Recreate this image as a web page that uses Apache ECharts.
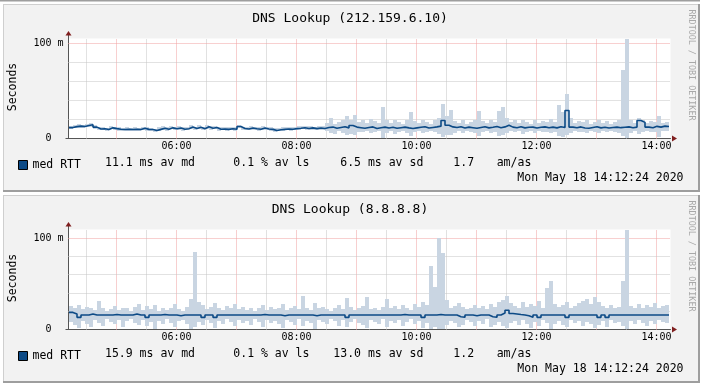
<!DOCTYPE html>
<html><head><meta charset="utf-8">
<script src="https://cdn.jsdelivr.net/npm/echarts@6/dist/echarts.min.js"></script>
<style>html,body{margin:0;padding:0;background:#fff}#c{width:706px;height:387px}</style>
</head><body><div id="c"></div>
<script>
// ---------------- DATA ----------------
const titles = ['DNS Lookup (212.159.6.10)', 'DNS Lookup (8.8.8.8)'];
const startMin = 252.5;   // ~04:12:24 in minutes of day
const stepMin = 4;        // minutes per sample
const xTickValues = [360, 480, 600, 720, 840];
const xTickLabels = ['06:00', '08:00', '10:00', '12:00', '14:00'];
const yTickValues = [0, 100];
const yTickLabels = ['0  ', '100 m'];
const canvasTop = [105.26, 109.3];   // value at top of white canvas
const yMax = [108.95, 113.1];        // axis extent (line reaches up to arrow)

// Panel 1: 212.159.6.10 (ms)
const med1 = [11.5,12.5,13.0,12.6,13.6,14.4,12.0,10.0,10.2,9.5,11.2,10.4,9.8,9.5,9.8,9.5,9.7,9.5,10.8,9.6,
9.5,8.4,9.6,10.8,9.8,11.2,10.2,11.0,9.8,10.2,12.0,10.5,11.8,10.2,12.3,10.8,11.5,9.8,10.0,9.6,
10.2,9.8,12.6,10.5,10.0,11.0,10.2,9.8,11.0,10.0,9.6,8.4,9.2,9.6,10.0,9.8,10.4,10.8,11.4,10.6,
11.2,10.4,11.0,10.6,11.5,12.0,10.8,11.6,12.4,11.2,13.7,12.0,11.4,10.8,11.6,12.2,10.6,11.4,12.0,11.0,
11.8,10.8,11.4,12.0,11.2,10.6,11.2,11.8,12.4,11.0,11.6,12.2,13.0,19.0,14.0,12.2,11.6,12.4,11.0,12.0,
11.4,10.8,11.6,12.4,11.2,11.8,12.6,11.4,12.2,14.0,12.0,11.4,12.4,11.2,11.8,12.0,11.0,11.8,12.2,11.4,
12.0,11.2,12.4,11.6,29.5,12.0,11.4,12.2,11.0,10.8,11.6,12.4,11.2,11.8,11.0,11.6,12.0,11.4,11.8,12.2,
11.4,12.0,19.0,17.0,12.0,11.4,12.8,12.0,13.0,12.6];
const lo1 = [10.0,11.0,11.5,11.0,12.0,12.5,10.5,8.5,8.8,8.0,9.5,9.0,8.2,8.0,8.4,8.0,8.2,8.0,9.0,8.2,
8.0,7.0,8.2,9.2,8.4,9.5,8.8,9.4,8.4,8.8,10.2,9.0,10.0,8.8,10.5,9.2,9.8,8.4,8.5,8.2,
8.8,8.4,10.8,9.0,8.6,9.4,8.8,8.4,9.4,8.6,8.2,7.0,7.8,8.2,8.5,8.3,8.8,9.2,9.6,9.0,
9.4,8.8,9.2,8.8,8.0,6.0,5.0,7.5,6.0,3.5,5.0,4.0,7.0,6.5,8.0,5.5,6.5,7.5,1.0,6.0,
7.5,5.0,7.0,8.0,6.0,3.0,6.5,7.5,6.0,7.0,8.0,6.5,5.0,2.0,4.0,3.5,6.0,7.5,6.0,8.0,
7.0,5.5,3.0,6.5,7.5,6.0,7.0,2.5,4.0,6.0,7.5,6.5,8.0,5.0,7.0,7.5,6.0,8.0,6.5,7.0,
5.5,7.0,3.0,2.0,4.0,6.0,7.5,6.5,7.0,5.5,8.0,7.0,6.0,7.5,6.5,8.0,7.0,5.5,3.0,1.0,
6.0,7.5,5.0,6.5,8.0,6.5,7.0,2.0,7.5,8.0];
const hi1 = [13.5,14.5,15.0,14.5,15.5,16.0,14.0,11.8,12.0,11.5,13.0,12.2,11.8,11.5,11.6,11.4,11.6,11.4,12.6,11.6,
11.4,10.4,11.6,12.8,11.8,13.0,12.2,13.0,11.8,12.2,14.0,12.5,13.8,12.2,14.2,12.8,13.5,11.8,12.0,11.6,
12.2,11.8,14.6,12.5,12.0,13.0,12.2,11.8,13.0,12.0,11.6,10.6,11.2,11.6,12.0,11.8,12.6,13.0,13.6,12.8,
13.5,12.6,13.4,13.0,16,22,15,17,19,24,20,25,17,19,16,21,18,16,33,19,
16,20,17,15,19,28,18,16,20,17,15,19,22,36,24,29.5,18,16,20,15,
17,19,29,18,16,20,17,29,33,22,17,19,16,20,17,15,19,16,18,17,
21,17,35,28,47,22,16,18,17,20,15,17,19,16,18,15,17,20,72,105,
19,16,22,20,16,18,17,24,16,17];

// Panel 2: 8.8.8.8 (ms)
const med2 = [18.7,17.0,13.3,15.9,15.9,17.0,15.9,15.9,15.9,15.9,15.9,16.4,15.9,15.9,15.9,15.9,17.0,15.9,15.9,13.3,
15.9,15.9,15.9,16.4,15.9,15.9,15.9,15.0,15.9,15.9,15.9,15.9,15.9,13.3,15.9,15.9,13.3,15.9,15.9,15.9,
15.9,15.9,15.9,15.9,15.9,15.9,15.9,15.9,16.4,15.9,15.9,15.9,15.9,15.0,15.9,15.9,15.9,15.9,15.9,15.9,
15.9,15.0,15.9,15.9,15.9,15.9,15.9,15.9,15.9,13.3,15.9,15.9,15.9,15.9,15.9,15.9,15.9,15.9,15.9,15.9,
15.9,15.9,15.9,16.4,15.9,15.9,15.9,15.9,13.3,15.9,15.9,15.9,16.4,15.9,15.9,15.9,15.9,14.0,13.3,15.9,
15.9,15.0,15.9,15.9,15.9,14.0,13.3,15.9,18.0,21.0,17.5,17.0,16.4,15.9,15.0,13.3,15.9,13.3,15.9,15.9,
15.9,15.9,15.9,15.9,13.3,15.9,15.9,15.9,15.9,15.9,15.9,15.9,13.3,15.9,13.3,15.9,15.9,15.9,15.9,15.9,
15.9,15.9,15.9,15.9,15.9,15.9,15.9,15.9,15.9,15.9];
const lo2 = [8,5,2,9,6,3,10,7,4,11,8,6,10,3,9,11,7,5,10,4,
8,1,9,6,11,7,3,9,10,6,1,3,8,5,10,7,2,9,6,11,
8,4,10,7,9,5,11,8,3,10,7,9,6,2,10,8,5,11,4,9,
7,1,10,8,6,11,9,4,10,3,8,11,7,5,2,10,8,6,11,3,
9,7,10,4,8,11,6,9,2,7,1,3,0.5,1,5,9,7,3,5,10,
8,4,9,6,11,3,5,8,4,2,7,9,5,10,6,2,8,4,10,7,
1,6,9,5,3,10,7,9,4,8,6,2,5,9,3,10,7,8,4,1,
9,6,10,7,4,9,6,10,8,7];
const hi2 = [26,24,27,22,25,23,21,31,24,20,22,26,21,24,23,20,25,28,21,26,
22,27,20,24,21,23,28,22,20,25,33,85,30,27,22,25,29,23,21,26,
24,28,22,25,21,23,20,24,27,21,25,22,24,28,21,23,26,22,37,24,
21,29,23,25,22,20,24,27,22,34,25,21,23,26,35,22,24,21,25,33,
23,26,22,27,24,21,28,25,30,27,69,46,100,84,32,24,26,29,25,22,
24,27,23,26,22,28,25,30,32,37,29,26,24,30,25,28,26,31,24,45,
53,28,25,27,30,23,26,29,31,33,28,35,30,26,24,27,23,25,53,109,
26,24,28,23,27,25,29,24,26,27];

const legendStats = [
  ['11.1 ms av md', '0.1 % av ls', ' 6.5 ms av sd', '1.7', 'am/as'],
  ['15.9 ms av md', '0.1 % av ls', '13.0 ms av sd', '1.2', 'am/as']
];
const dateText = 'Mon May 18 14:12:24 2020';
const watermark = 'RRDTOOL / TOBI OETIKER';

// ---------------- STYLE / LAYOUT ----------------
const FONT = '"DejaVu Sans Mono", monospace';
const MED = '#0c4a86', SMOKE = '#c9d5e2';
const RED = '#f0a0a0', GRAY = '#c4c4c4';
const AXIS = '#555', ARROW = '#801f1f';
const panelTop = [4, 195];
const gridTop = [35, 226];
const gridLeft = 68.5, gridW = 602, gridH = 103.5;
const xMin = 252, xMax = 854;

function pairs(arr) {
  const out = arr.map((v, i) => [startMin + i * stepMin, v]);
  out.push([startMin + arr.length * stepMin, arr[arr.length - 1]]);
  return out;
}
function fmtTime(v) { const i = xTickValues.indexOf(v); return i >= 0 ? xTickLabels[i] : ''; }
function fmtY(v) { const i = yTickValues.indexOf(v); return i >= 0 ? yTickLabels[i] : ''; }

function smokeItem(params, api) {
  const t = api.value(0), lo = api.value(1), hi = api.value(2);
  const a = api.coord([t, hi]);
  const b = api.coord([t + stepMin, lo]);
  const x0 = Math.round(a[0]), x1 = Math.round(b[0]);
  const y0 = Math.round(a[1]), y1 = Math.round(b[1]);
  return {type:'rect', shape:{x:x0, y:y0, width:x1 - x0, height:Math.max(1, y1 - y0)}, style:{fill:SMOKE}};
}

const grids = [], xAxes = [], yAxes = [], series = [], legends = [], graphics = [];
graphics.push({type:'rect', z:-10, shape:{x:0,y:0,width:700,height:1.5}, style:{fill:'#9e9e9e'}});

const meds = [med1, med2], los = [lo1, lo2], his = [hi1, hi2];
for (let p = 0; p < 2; p++) {
  const T = panelTop[p];
  graphics.push({type:'rect', z:-10, shape:{x:3,y:T,width:697,height:188}, style:{fill:'#9e9e9e'}});
  graphics.push({type:'rect', z:-9, shape:{x:3,y:T,width:695,height:186}, style:{fill:'#cfcfcf'}});
  graphics.push({type:'rect', z:-8, shape:{x:4,y:T+1,width:694,height:185}, style:{fill:'#f2f2f2'}});

  grids.push({left:gridLeft, top:gridTop[p], width:gridW, height:gridH, show:false, containLabel:false});
  const common = {gridIndex:p, type:'value', min:xMin, max:xMax, position:'bottom'};
  xAxes.push(Object.assign({}, common, {
    axisLine:{show:true, onZero:false, lineStyle:{color:AXIS, width:1}},
    axisTick:{show:false},
    splitLine:{show:false},
    axisLabel:{show:true, customValues:xTickValues, formatter:fmtTime, fontFamily:FONT, fontSize:10, color:'#000', margin:3}
  }));
  xAxes.push(Object.assign({}, common, {
    axisLine:{show:true, onZero:false, symbol:['none','triangle'], symbolSize:[6,5], symbolOffset:[0,4], lineStyle:{color:ARROW, opacity:0}},
    axisTick:{show:false}, axisLabel:{show:false}, splitLine:{show:false}
  }));
  const ycommon = {gridIndex:p, type:'value', min:0, max:yMax[p], position:'left'};
  yAxes.push(Object.assign({}, ycommon, {
    axisLine:{show:true, lineStyle:{color:AXIS, width:1}},
    axisTick:{show:true, customValues:[0], length:3, lineStyle:{color:AXIS}},
    splitLine:{show:false},
    axisLabel:{show:true, customValues:yTickValues, formatter:fmtY, fontFamily:FONT, fontSize:10, color:'#000', margin:5}
  }));
  yAxes.push(Object.assign({}, ycommon, {
    axisLine:{show:true, symbol:['none','triangle'], symbolSize:[6,4.5], symbolOffset:[0,1.8], lineStyle:{color:ARROW, opacity:0}},
    axisTick:{show:false}, axisLabel:{show:false}, splitLine:{show:false}
  }));

  const ml = [];
  for (let t = 270; t < xMax; t += 30) {
    ml.push([{xAxis:t, yAxis:0, lineStyle:{color:(t % 60 === 0) ? RED : GRAY, type:[1,1], width:1}}, {xAxis:t, yAxis:canvasTop[p]}]);
  }
  [20,40,60,80].forEach(v => ml.push({yAxis:v, lineStyle:{color:GRAY, type:[1,1], width:1}}));
  ml.push({yAxis:100, lineStyle:{color:RED, type:[1,1], width:1}});

  const lo = los[p], hi = his[p];
  const smokeData = lo.map((v, i) => [startMin + i * stepMin, v, hi[i]]);
  series.push({type:'custom', name:'smoke-'+p, xAxisIndex:2*p, yAxisIndex:2*p, data:smokeData,
    renderItem:smokeItem, encode:{x:0, y:[1,2]}, clip:true, silent:true, z:2, animation:false,
    markArea:{silent:true, z:0, itemStyle:{color:'#fff', opacity:1}, label:{show:false},
      data:[[{xAxis:xMin, yAxis:0}, {xAxis:xMax, yAxis:canvasTop[p]}]]},
    markLine:{silent:true, symbol:['none','none'], label:{show:false}, animation:false, z:1, data:ml}});
  series.push({type:'line', name:'med RTT', xAxisIndex:2*p, yAxisIndex:2*p, data:pairs(meds[p]), step:'end',
    symbol:'none', z:3, lineStyle:{color:MED, width:1.6}, itemStyle:{color:MED}, animation:false});

  legends.push({data:['med RTT'], left:18, top:T+154.5, padding:0, icon:'rect', itemWidth:9, itemHeight:9,
    selectedMode:false, itemStyle:{color:MED, borderColor:'#000', borderWidth:1},
    textStyle:{fontFamily:FONT, fontSize:11.5, color:'#000', lineHeight:13}});

  const off = T - 4;
  const txt = (text, x, y, size, align, extra) => Object.assign({type:'text', x:x, y:y, z:10,
    style:{text:text, font:size+'px '+FONT, fill:'#000', textAlign:align, align:align, textVerticalAlign:'middle', verticalAlign:'middle'}}, extra||{});
  graphics.push(txt(titles[p], 350, 18.5 + off, 13, 'center'));
  graphics.push(txt('Seconds', 13, 87 + off, 11.5, 'center', {rotation:Math.PI/2}));
  const wm = txt(watermark, 691.5, 65 + off, 8.4, 'center', {rotation:-Math.PI/2});
  wm.style.fill = '#a8a8a8';
  graphics.push(wm);
  const sx = [105, 233.3, 333.3, 453.3, 496.7];
  legendStats[p].forEach((s, k) => graphics.push(txt(s, sx[k], 163.5 + off, 11.5, 'left')));
  graphics.push(txt(dateText, 683.5, 178.5 + off, 11.5, 'right'));
}

const chart = echarts.init(document.getElementById('c'), null, {renderer:'canvas'});
chart.setOption({
  animation:false,
  backgroundColor:'#fff',
  grid:grids, xAxis:xAxes, yAxis:yAxes, series:series, legend:legends,
  graphic:{elements:graphics},
  tooltip:{show:false}
});
</script>
</body></html>
